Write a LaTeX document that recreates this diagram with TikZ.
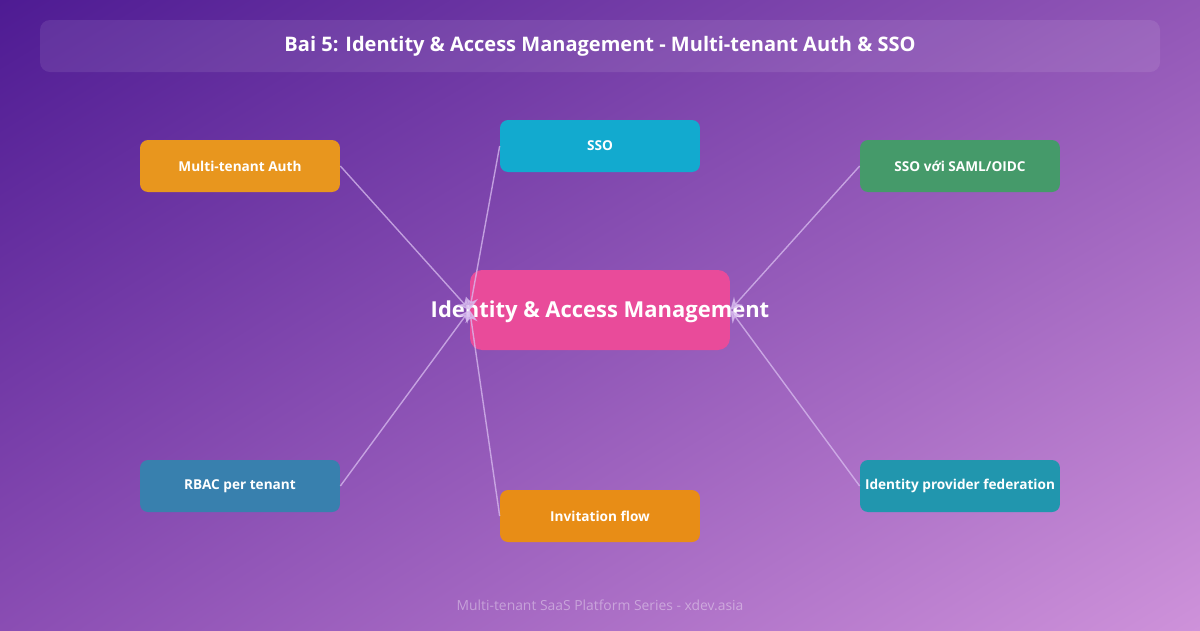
\documentclass[tikz,border=0pt]{standalone}
\usepackage{fontspec}
\setmainfont{Open Sans}
\usetikzlibrary{arrows.meta,shadings}
\definecolor{bgA}{HTML}{4E1B93}
\definecolor{bgB}{HTML}{9257B7}
\definecolor{bgC}{HTML}{8A4DB3}
\definecolor{bgD}{HTML}{CE92DA}
\definecolor{cOrange}{HTML}{E8961E}
\definecolor{cCyan}{HTML}{12AACF}
\definecolor{cGreen}{HTML}{459A6A}
\definecolor{cPink}{HTML}{E94B9A}
\definecolor{cBlue}{HTML}{3880AE}
\definecolor{cAmber}{HTML}{E88D16}
\definecolor{cTeal}{HTML}{2196AE}
\definecolor{cLine}{HTML}{D9BDF0}
\tikzset{
  topic/.style={rounded corners=0.16cm, minimum width=4cm, minimum height=1.04cm,
    text=white, font=\fontsize{7.75}{9}\selectfont\bfseries, inner sep=1pt},
  link/.style={draw=cLine, line width=0.8pt, opacity=0.75,
    -{Stealth[length=7pt,width=7pt]}}
}
\begin{document}
\begin{tikzpicture}[x=0.02cm,y=-0.02cm]
% Achtergrond
\shade[upper left=bgA, upper right=bgB, lower left=bgC, lower right=bgD] (0,0) rectangle (1200,630);
\useasboundingbox (0,0) rectangle (1200,630);
% Titel
\fill[white, opacity=0.09, rounded corners=0.2cm] (40,20) rectangle (1160,72);
\node[text=white, font=\fontsize{11.4}{13}\selectfont\bfseries] (title) at (600,46)
  {Bai 5: Identity \& Access Management - Multi-tenant Auth \& SSO};
% Midden
\node[fill=cPink, rounded corners=0.24cm, minimum width=5.2cm, minimum height=1.6cm] (center) at (600,310) {};
\node[text=white, font=\fontsize{12.5}{14}\selectfont\bfseries] (centertext) at (600,312) {Identity \& Access Management};
% Onderwerpen
\node[topic, fill=cOrange] (auth) at (240,166) {Multi-tenant Auth};
\node[topic, fill=cCyan] (sso) at (600,146) {SSO};
\node[topic, fill=cGreen] (saml) at (960,166) {SSO với SAML/OIDC};
\node[topic, fill=cBlue] (rbac) at (240,486) {RBAC per tenant};
\node[topic, fill=cAmber] (invite) at (600,516) {Invitation flow};
\node[topic, fill=cTeal] (idp) at (960,486) {Identity provider federation};
% Pijlen
\draw[link] (auth.east) -- (center.west);
\draw[link] (sso.west) -- (center.west);
\draw[link] (rbac.east) -- (center.west);
\draw[link] (invite.west) -- (center.west);
\draw[link] (saml.west) -- (center.east);
\draw[link] (idp.west) -- (center.east);
% Voettekst
\node[text=white, text opacity=0.38, font=\fontsize{7.9}{9}\selectfont] (footer) at (600,605)
  {Multi-tenant SaaS Platform Series - xdev.asia};
\end{tikzpicture}
\end{document}
